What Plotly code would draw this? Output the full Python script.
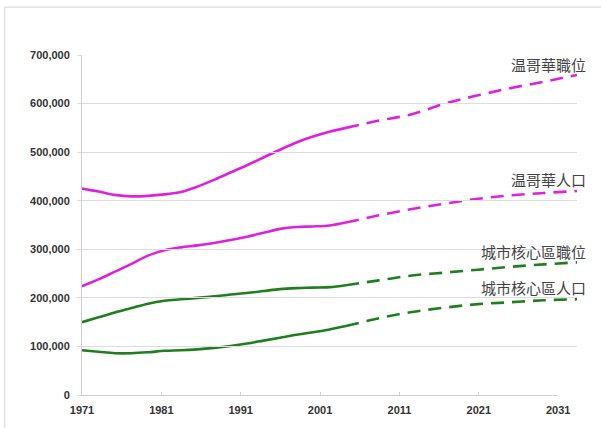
import plotly.graph_objects as go

# ---- data (values in persons / jobs) ----
years_hist = [1971, 1973, 1975, 1977, 1979, 1981, 1983, 1985, 1987, 1989,
              1991, 1993, 1995, 1997, 1999, 2001, 2003]
years_proj = [2003, 2007, 2011, 2015, 2019, 2023, 2027, 2031]

van_jobs_hist = [425000, 419000, 412000, 409000, 410000, 413000, 418000, 429000, 443000, 458000,
                 473000, 489000, 505000, 520000, 532000, 542000, 550000]
van_jobs_proj = [550000, 565000, 578000, 600000, 617000, 632000, 645000, 659000]

van_pop_hist = [224000, 238000, 254000, 270000, 287000, 298000, 304000, 308000, 313000, 319000,
                326000, 334000, 342000, 346000, 347000, 349000, 355000]
van_pop_proj = [355000, 370000, 383000, 394000, 404000, 411000, 416000, 420000]

core_jobs_hist = [150000, 160000, 170000, 179000, 188000, 194000, 197000, 200000, 203000, 207000,
                  210000, 214000, 218000, 220000, 221000, 222000, 226000]
core_jobs_proj = [226000, 236000, 246000, 252000, 258000, 264000, 269000, 273000]

core_pop_hist = [92000, 89000, 86000, 86000, 88000, 91000, 92000, 94000, 97000, 101000,
                 106000, 112000, 118000, 124000, 129000, 135000, 142000]
core_pop_proj = [142000, 158000, 171000, 180000, 187000, 191000, 195000, 197000]

x_ticks = [1971, 1981, 1991, 2001, 2011, 2021, 2031]
y_ticks = [0, 100000, 200000, 300000, 400000, 500000, 600000, 700000]
y_tick_text = ["0", "100,000", "200,000", "300,000", "400,000", "500,000", "600,000", "700,000"]

labels = ["温哥華職位", "温哥華人口", "城市核心區職位", "城市核心區人口"]
label_y = [0.971, 0.633, 0.422, 0.317]

MAGENTA = "#dd22dd"
GREEN = "#1f7f1f"

fig = go.Figure()

series = [
    (van_jobs_hist, van_jobs_proj, MAGENTA),
    (van_pop_hist, van_pop_proj, MAGENTA),
    (core_jobs_hist, core_jobs_proj, GREEN),
    (core_pop_hist, core_pop_proj, GREEN),
]
for hist, proj, col in series:
    fig.add_trace(go.Scatter(x=years_hist, y=hist, mode="lines",
                             line=dict(color=col, width=2.6, shape="spline", smoothing=1.0),
                             hoverinfo="skip", showlegend=False))
    fig.add_trace(go.Scatter(x=years_proj, y=proj, mode="lines",
                             line=dict(color=col, width=2.6, shape="spline", smoothing=1.0,
                                       dash="13px,8px"),
                             hoverinfo="skip", showlegend=False))

# invisible trace carrying the labelled year axis
fig.add_trace(go.Scatter(x=[x_ticks[0], x_ticks[-1]], y=[None, None], xaxis="x2", yaxis="y",
                         mode="lines", hoverinfo="skip", showlegend=False))

for txt, yy in zip(labels, label_y):
    fig.add_annotation(x=1.022, y=yy, xref="paper", yref="paper", text=txt, showarrow=False,
                       xanchor="right", yanchor="middle",
                       font=dict(family="Noto Sans CJK TC", size=15, color="#444444"))

# light frame around the chart
fig.add_shape(type="rect", xref="paper", yref="paper", x0=-0.156, y0=-0.2, x1=1.2, y1=1.1408,
              line=dict(color="#d4d4d4", width=1), layer="below")

tick_font = dict(family="Liberation Sans", size=11, color="#333333", weight="bold")

fig.update_layout(
    width=601, height=428,
    margin=dict(l=82, r=19, t=55, b=32),
    paper_bgcolor="white", plot_bgcolor="rgba(0,0,0,0)",
    xaxis=dict(range=[1971, 2031], domain=[0, 1], showgrid=False, zeroline=False,
               showticklabels=False, showline=False, ticks=""),
    xaxis2=dict(range=[1971, 2031], domain=[0, 0.962], anchor="y", showgrid=False,
                zeroline=False, tickvals=x_ticks, ticktext=[str(v) for v in x_ticks],
                showline=True, linecolor="#cfcfcf", linewidth=1,
                ticks="inside", ticklen=3, tickcolor="#cfcfcf",
                ticklabelstandoff=5, tickfont=tick_font),
    yaxis=dict(range=[0, 700000], tickvals=y_ticks, ticktext=y_tick_text,
               showgrid=True, gridcolor="#dcdcdc", gridwidth=1, zeroline=False,
               showline=True, linecolor="#cfcfcf", linewidth=1,
               ticks="outside", ticklen=4, tickcolor="#dcdcdc",
               ticklabelstandoff=5, tickfont=tick_font),
)

fig.write_html("out.html")
